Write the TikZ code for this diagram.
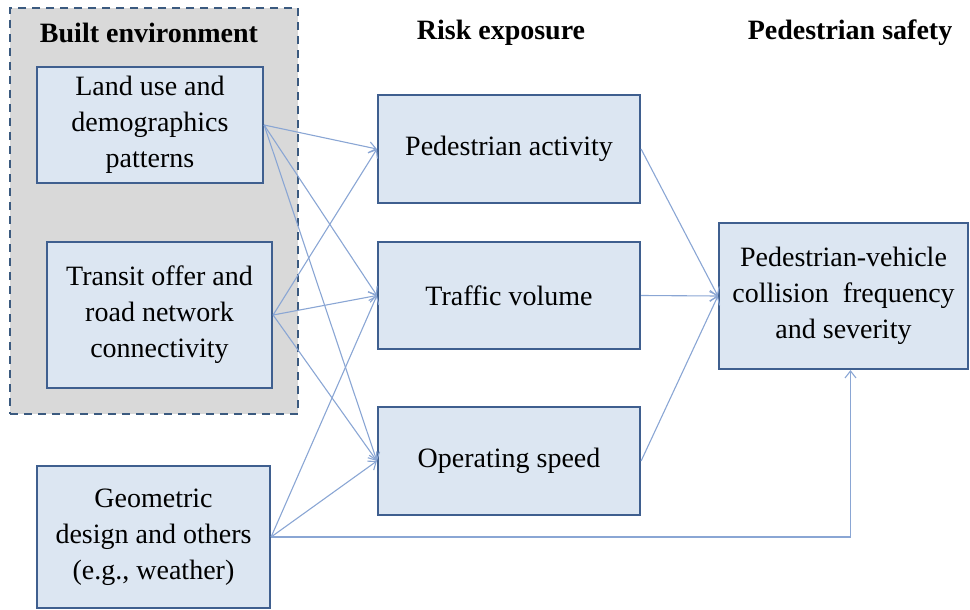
\documentclass[tikz,border=0pt]{standalone}
\usepackage{fontspec}
\setmainfont{Liberation Serif}
\usetikzlibrary{arrows.meta,calc}
\definecolor{boxfill}{HTML}{DCE6F2}
\definecolor{boxline}{HTML}{3F5F8F}
\definecolor{grayfill}{HTML}{D9D9D9}
\definecolor{dashline}{HTML}{3B5A7F}
\definecolor{arrcol}{HTML}{8AA6D4}
\tikzset{
  stdbox/.style={draw=boxline, fill=boxfill, line width=2.2pt, rectangle, align=center,
    font=\fontsize{28}{36}\selectfont, inner sep=0pt},
  header/.style={font=\fontsize{28}{36}\selectfont\bfseries, inner sep=0pt},
  arr/.style={draw=arrcol, line width=1.1pt, -{Straight Barb[length=7pt,width=11pt]}}
}
\begin{document}
\begin{tikzpicture}[x=1pt,y=-1pt]
\useasboundingbox (0,0) rectangle (970,610);
% built environment group
\node[draw=dashline, fill=grayfill, line width=2pt, dash pattern=on 8pt off 6pt,
  minimum width=288pt, minimum height=406pt, inner sep=0pt] (grp) at (154,211) {};
\node[header] (h1) at (149,33) {Built environment};
\node[header] (h2) at (501,33) {Risk exposure};
\node[header] (h3) at (850,33) {Pedestrian safety};
% left boxes
\node[stdbox, minimum width=226pt, minimum height=116pt] (lu) at (150,125) {Land use and\\demographics\\patterns};
\node[stdbox, minimum width=225pt, minimum height=146pt] (tr) at (159.5,315) {Transit offer and\\road network\\connectivity};
\node[stdbox, minimum width=233pt, minimum height=142pt] (geo) at (153.5,537) {Geometric\\design and others\\(e.g., weather)};
% middle boxes
\node[stdbox, minimum width=262pt, minimum height=108pt] (pa) at (509,149) {Pedestrian activity};
\node[stdbox, minimum width=262pt, minimum height=107pt] (tv) at (509,295.5) {Traffic volume};
\node[stdbox, minimum width=262pt, minimum height=108pt] (os) at (509,461) {Operating speed};
% right box
\node[stdbox, minimum width=249pt, minimum height=146pt] (col) at (843.5,296) {Pedestrian-vehicle\\collision\enspace frequency\\and severity};
\coordinate (colin) at ([xshift=7pt]col.south);
% connectors
\draw[arr] (lu.east) -- (pa.west);
\draw[arr] (lu.east) -- (tv.west);
\draw[arr] (lu.east) -- (os.west);
\draw[arr] (tr.east) -- (pa.west);
\draw[arr] (tr.east) -- (tv.west);
\draw[arr] (tr.east) -- (os.west);
\draw[arr] (geo.east) -- (tv.west);
\draw[arr] (geo.east) -- (os.west);
\draw[arr] (pa.east) -- (col.west);
\draw[arr] (tv.east) -- (col.west);
\draw[arr] (os.east) -- (col.west);
\draw[arr] (geo.east) -| (colin);
\end{tikzpicture}
\end{document}
